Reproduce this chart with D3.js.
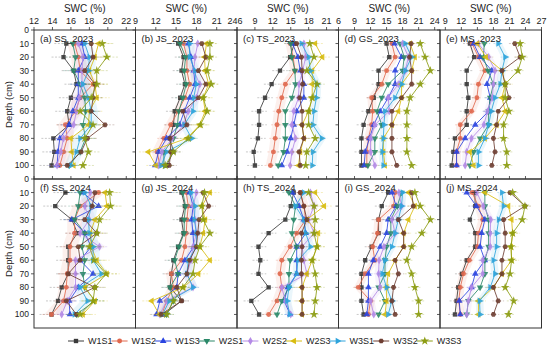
<html>
<head>
    <style>
        body { margin: 0; background: #fff; }
        text { font-family: Arial, "Liberation Sans", sans-serif; fill: #222; }
    </style>
</head>
<body>
    <svg id="chart" width="550" height="349"></svg>

<script src="https://cdn.jsdelivr.net/npm/d3@7"></script>
<script>
    // depth (cm) of each measurement
    let depths = [10, 20, 30, 40, 50, 60, 70, 80, 90, 100]

    let seriesNames = ["W1S1", "W1S2", "W1S3", "W2S1", "W2S2", "W2S3", "W3S1", "W3S2", "W3S3"]
    let seriesColors = ["#3a3a3a", "#e0684e", "#2a44e0", "#2a8868", "#b48ae6", "#d8bc10", "#2ea4dc", "#6e3e32", "#8c9c12"]
    // rough half-width of the error bars, per treatment
    let errorSpread = [1.3, 1.0, 0.9, 1.1, 0.9, 1.4, 0.9, 1.1, 1.3]

    // SWC (%) per treatment, depths 10..100
    let ss2023 = [
        [15.5, 15.2, 16.3, 16.6, 16.0, 15.6, 15.8, 14.1, 14.2, 13.9],
        [16.4, 16.8, 17.0, 18.4, 17.0, 16.5, 15.4, 15.6, 15.2, 14.8],
        [17.2, 17.5, 16.8, 16.8, 16.8, 16.2, 15.8, 14.8, 14.6, 14.5],
        [16.2, 16.5, 16.3, 17.0, 17.5, 17.6, 17.3, 17.6, 17.0, 15.8],
        [16.8, 17.3, 17.2, 17.2, 16.9, 16.6, 16.3, 15.2, 14.9, 14.5],
        [19.0, 18.6, 18.0, 18.6, 18.8, 18.0, 17.9, 16.0, 16.1, 16.3],
        [17.5, 18.0, 17.9, 17.3, 17.9, 18.2, 18.2, 17.0, 16.6, 16.0],
        [18.2, 18.4, 17.5, 18.6, 18.4, 18.2, 19.7, 17.8, 17.1, 15.6],
        [19.4, 19.9, 18.8, 18.8, 18.2, 17.0, 18.4, 17.5, 17.9, 17.3]
    ]
    let js2023 = [
        [15.3, 16.1, 15.8, 16.3, 15.6, 14.8, 14.6, 14.1, 14.6, 13.6],
        [16.1, 16.6, 16.6, 17.0, 16.3, 15.3, 14.2, 13.2, 12.2, 12.6],
        [16.8, 17.2, 17.6, 17.8, 17.0, 16.2, 15.5, 13.6, 12.4, 11.9],
        [15.6, 16.4, 16.2, 16.5, 16.0, 15.4, 15.2, 14.6, 13.2, 13.2],
        [18.2, 17.8, 17.6, 18.5, 18.0, 16.8, 16.1, 14.4, 12.9, 12.4],
        [19.5, 19.2, 19.3, 19.8, 19.0, 19.3, 18.5, 16.6, 10.9, 12.0],
        [17.0, 17.0, 17.8, 18.0, 17.6, 17.5, 16.2, 17.3, 13.6, 12.8],
        [18.8, 19.4, 18.3, 19.4, 18.3, 16.0, 16.6, 14.1, 14.2, 14.0],
        [20.0, 20.0, 19.6, 20.2, 19.0, 19.6, 18.6, 16.8, 14.6, 13.4]
    ]
    let ts2023 = [
        [15.6, 14.9, 13.2, 11.8, 10.7, 9.7, 9.7, 9.5, 8.8, 9.0],
        [14.9, 15.4, 15.7, 14.1, 13.5, 13.0, 12.7, 12.4, 12.1, 11.6],
        [15.3, 16.2, 16.6, 17.2, 17.2, 16.0, 15.5, 15.0, 14.4, 13.5],
        [15.0, 15.2, 15.7, 15.8, 15.2, 14.1, 14.1, 14.1, 13.8, 12.9],
        [17.2, 17.5, 17.0, 16.4, 16.3, 15.5, 15.2, 15.8, 15.2, 14.9],
        [19.1, 20.3, 18.6, 18.6, 18.6, 18.0, 16.9, 17.2, 16.6, 16.3],
        [16.8, 18.0, 18.3, 19.4, 19.3, 18.9, 18.7, 20.2, 18.7, 18.6],
        [16.0, 16.8, 16.9, 17.0, 16.5, 16.9, 16.9, 17.2, 16.4, 16.6],
        [18.2, 18.9, 17.7, 19.4, 18.6, 18.0, 18.0, 19.1, 17.7, 17.5]
    ]
    let gs2023 = [
        [15.0, 15.5, 13.5, 13.5, 12.6, 11.6, 10.7, 10.3, 10.3, 10.3],
        [16.0, 16.6, 15.0, 14.1, 12.2, 12.4, 12.2, 11.6, 11.3, 11.3],
        [16.5, 17.8, 16.6, 16.6, 15.3, 13.8, 12.6, 11.8, 11.0, 10.8],
        [17.5, 18.3, 18.0, 15.3, 14.1, 13.2, 14.1, 12.8, 12.8, 11.5],
        [18.0, 19.1, 18.5, 17.2, 15.3, 15.5, 12.8, 12.0, 12.0, 12.8],
        [19.4, 20.3, 19.7, 17.8, 17.8, 17.2, 16.0, 14.4, 14.4, 14.7],
        [18.5, 19.7, 18.5, 17.8, 16.6, 14.7, 14.5, 14.4, 14.2, 14.4],
        [19.6, 19.3, 19.7, 19.7, 17.8, 16.0, 16.0, 16.0, 16.0, 16.9],
        [21.3, 22.2, 23.2, 21.3, 19.4, 18.8, 18.8, 18.8, 18.8, 19.7]
    ]
    let ms2023 = [
        [13.6, 14.4, 13.0, 13.0, 13.3, 13.0, 13.0, 10.8, 10.5, 10.2],
        [14.0, 15.2, 16.4, 15.2, 14.9, 13.9, 11.8, 11.8, 11.1, 11.1],
        [14.3, 15.5, 17.7, 16.8, 17.4, 17.1, 14.6, 12.7, 11.1, 11.1],
        [16.3, 16.1, 17.0, 18.0, 17.4, 17.1, 17.1, 15.5, 14.3, 13.6],
        [15.2, 17.1, 18.3, 18.0, 17.8, 16.9, 16.2, 13.9, 13.0, 12.7],
        [15.0, 16.6, 19.6, 20.2, 19.6, 20.2, 18.6, 16.4, 13.6, 14.3],
        [18.9, 20.2, 19.6, 19.3, 18.3, 17.6, 17.1, 16.4, 15.2, 15.2],
        [22.0, 23.0, 19.6, 20.2, 20.9, 18.9, 18.6, 18.0, 18.3, 17.7],
        [23.0, 23.4, 22.6, 20.2, 20.2, 20.9, 19.9, 19.9, 20.5, 20.5]
    ]
    let ss2024 = [
        [15.4, 14.3, 16.1, 16.7, 15.7, 15.7, 15.7, 15.0, 14.6, 13.9],
        [19.0, 17.0, 16.4, 16.4, 15.9, 15.9, 15.6, 15.5, 15.2, 13.9],
        [17.3, 19.0, 16.1, 17.5, 18.2, 17.0, 18.4, 16.8, 15.8, 15.9],
        [17.0, 16.8, 16.4, 17.5, 17.2, 17.5, 17.3, 17.5, 18.6, 16.6],
        [18.1, 17.5, 18.0, 17.0, 19.1, 16.5, 16.5, 16.5, 15.6, 15.0],
        [19.7, 19.9, 18.6, 18.1, 18.2, 18.8, 19.9, 17.5, 18.6, 17.3],
        [17.5, 18.2, 17.9, 18.0, 18.4, 18.4, 19.3, 17.0, 17.8, 16.4],
        [18.6, 18.3, 17.5, 18.8, 16.8, 17.0, 15.7, 18.6, 15.5, 16.6],
        [20.2, 20.3, 19.1, 18.8, 18.0, 18.5, 19.8, 18.6, 18.4, 17.0]
    ]
    let js2024 = [
        [15.8, 16.3, 15.8, 16.1, 15.3, 14.6, 14.3, 14.1, 15.8, 13.2],
        [16.5, 16.8, 16.6, 16.5, 16.3, 15.8, 14.3, 14.6, 13.6, 12.9],
        [17.0, 17.5, 17.3, 17.5, 17.6, 16.3, 15.3, 15.1, 12.6, 12.1],
        [16.0, 16.4, 16.2, 16.2, 15.4, 14.8, 15.3, 14.1, 14.6, 13.6],
        [18.0, 17.5, 17.8, 18.0, 17.5, 17.2, 16.6, 17.5, 13.6, 12.6],
        [20.0, 18.8, 19.3, 19.0, 18.5, 20.0, 18.3, 16.1, 11.4, 12.5],
        [17.2, 17.8, 17.7, 18.0, 18.0, 16.8, 16.6, 17.5, 14.0, 13.0],
        [19.0, 19.8, 18.4, 18.2, 18.0, 17.0, 16.6, 15.1, 15.8, 12.8],
        [19.2, 18.8, 19.0, 20.0, 18.5, 17.8, 17.5, 16.0, 14.6, 13.6]
    ]
    let ts2024 = [
        [15.5, 15.0, 14.1, 11.3, 9.6, 9.9, 9.6, 11.3, 8.4, 9.7],
        [16.6, 17.2, 17.5, 16.0, 14.9, 13.5, 13.2, 13.5, 12.7, 11.3],
        [15.3, 16.4, 17.2, 17.5, 16.0, 16.0, 16.0, 14.5, 13.9, 14.9],
        [14.7, 15.8, 15.5, 15.2, 16.0, 14.9, 14.7, 14.7, 13.5, 12.7],
        [18.3, 18.9, 18.0, 18.9, 16.9, 17.2, 17.7, 13.5, 14.1, 15.0],
        [19.1, 20.6, 17.7, 19.6, 19.4, 18.6, 17.7, 16.9, 16.9, 16.9],
        [17.2, 15.8, 17.2, 17.5, 18.3, 16.2, 16.0, 14.7, 14.4, 14.8],
        [16.6, 17.2, 17.7, 16.8, 16.9, 16.8, 16.8, 16.9, 16.9, 16.9],
        [18.0, 18.9, 19.1, 18.9, 19.4, 18.6, 19.1, 19.4, 19.1, 18.9]
    ]
    let gs2024 = [
        [15.3, 14.1, 13.5, 13.5, 12.2, 11.0, 10.3, 10.3, 10.3, 10.7],
        [16.6, 16.3, 13.5, 13.3, 12.4, 12.8, 11.0, 9.7, 12.0, 11.6],
        [16.0, 16.8, 15.3, 15.0, 13.8, 12.5, 11.6, 11.6, 11.6, 11.3],
        [17.8, 17.0, 15.8, 15.8, 15.0, 14.7, 14.7, 13.5, 14.7, 13.5],
        [17.3, 17.8, 16.0, 16.6, 14.5, 13.6, 13.5, 13.8, 12.0, 12.6],
        [19.1, 20.3, 19.1, 18.2, 18.2, 16.6, 15.3, 15.0, 15.0, 14.7],
        [18.0, 17.8, 17.2, 16.6, 16.0, 14.7, 14.2, 15.0, 16.0, 15.3],
        [19.7, 20.0, 17.2, 18.2, 18.2, 16.6, 17.2, 16.3, 16.0, 16.6],
        [20.3, 21.3, 23.2, 21.6, 19.7, 18.8, 19.7, 20.3, 21.0, 21.0]
    ]
    let ms2024 = [
        [14.5, 14.6, 13.6, 14.6, 14.6, 13.0, 12.1, 11.4, 11.1, 10.8],
        [14.0, 15.2, 16.0, 15.2, 15.0, 13.5, 12.4, 11.8, 11.5, 11.8],
        [13.0, 14.8, 16.4, 15.8, 15.5, 16.4, 14.6, 13.9, 11.6, 11.8],
        [16.4, 16.4, 17.1, 17.1, 17.1, 16.4, 16.4, 15.5, 13.3, 13.0],
        [14.9, 16.1, 17.5, 17.4, 17.4, 16.0, 16.0, 13.9, 13.3, 13.0],
        [16.4, 20.8, 21.4, 21.6, 21.3, 21.4, 19.6, 18.0, 15.2, 15.2],
        [19.6, 19.9, 19.0, 18.6, 18.6, 18.0, 18.3, 17.4, 15.4, 15.5],
        [21.1, 23.9, 19.9, 20.2, 20.2, 19.6, 19.6, 18.0, 18.9, 18.0],
        [21.6, 23.9, 23.4, 21.6, 21.3, 21.4, 21.1, 20.2, 21.8, 20.8]
    ]

    let panelLabels = ["(a) SS_2023", "(b) JS_2023", "(c) TS_2023", "(d) GS_2023", "(e) MS_2023",
                       "(f) SS_2024", "(g) JS_2024", "(h) TS_2024", "(i) GS_2024", "(j) MS_2024"]
    let panelData = [ss2023, js2023, ts2023, gs2023, ms2023, ss2024, js2024, ts2024, gs2024, ms2024]
    let xDomains = [[12, 23], [9, 24], [6, 23], [6, 25], [8, 27]]
    let xTicks = [[12, 14, 16, 18, 20, 22], [9, 12, 15, 18, 21, 24], [6, 9, 12, 15, 18, 21],
                  [6, 9, 12, 15, 18, 21, 24], [9, 12, 15, 18, 21, 24, 27]]
    let yTicks = [0, 10, 20, 30, 40, 50, 60, 70, 80, 90, 100]

    let svg = d3.select("#chart")
    let left = 34, panelW = 101.5
    let rowTop = [30, 179], panelH = 149

    // extra marker shapes (Origin style)
    function regular(n, rot) {
        return {
            draw(ctx, size) {
                let r = Math.sqrt(size / (n * Math.sin(2 * Math.PI / n) / 2))
                for (let i = 0; i < n; i++) {
                    let a = rot + i * 2 * Math.PI / n
                    if (i) ctx.lineTo(r * Math.cos(a), r * Math.sin(a))
                    else ctx.moveTo(r * Math.cos(a), r * Math.sin(a))
                }
                ctx.closePath()
            }
        }
    }
    let symbols = [d3.symbolSquare, d3.symbolCircle, regular(3, -Math.PI / 2), regular(3, Math.PI / 2),
                   d3.symbolDiamond, regular(3, Math.PI), regular(3, 0), regular(6, 0), d3.symbolStar]

    let defs = svg.append("defs")

    panelData.forEach((data, p) => {
        let col = p % 5, row = Math.floor(p / 5)
        let x0 = left + col * panelW, y0 = rowTop[row]

        let x = d3.scaleLinear().domain(xDomains[col]).range([x0, x0 + panelW])
        let y = d3.scaleLinear().domain([0, 110]).range([y0, y0 + panelH])

        defs.append("clipPath").attr("id", "clip" + p)
            .append("rect").attr("x", x0).attr("y", y0).attr("width", panelW).attr("height", panelH)

        let g = svg.append("g").attr("clip-path", "url(#clip" + p + ")")

        // faint spread bands
        let band = d3.area()
            .y(d => y(d.depth))
            .x0(d => x(d.v - d.e))
            .x1(d => x(d.v + d.e))
        ;[1, 6, 4].forEach(s => {
            let pts = data[s].map((v, i) => ({ depth: depths[i], v: v, e: errorSpread[s] * 0.8 }))
            g.append("path")
                .attr("d", band(pts))
                .attr("fill", seriesColors[s])
                .attr("opacity", 0.1)
        })

        data.forEach((vals, s) => {
            let pts = vals.map((v, i) => ({ depth: depths[i], v: v }))
            let c = seriesColors[s]

            // error bars
            g.selectAll(null).data(pts).enter().append("line")
                .attr("x1", d => x(d.v - errorSpread[s]))
                .attr("x2", d => x(d.v + errorSpread[s]))
                .attr("y1", d => y(d.depth))
                .attr("y2", d => y(d.depth))
                .attr("stroke", c)
                .attr("stroke-opacity", 0.35)
                .attr("stroke-width", 0.8)
                .attr("stroke-dasharray", "2,1.5")

            g.append("path")
                .attr("d", d3.line().x(d => x(d.v)).y(d => y(d.depth))(pts))
                .attr("fill", "none")
                .attr("stroke", c)
                .attr("stroke-width", 1)
                .attr("stroke-opacity", 0.85)

            g.selectAll(null).data(pts).enter().append("path")
                .attr("transform", d => `translate(${x(d.v)},${y(d.depth)})`)
                .attr("d", d3.symbol().type(symbols[s]).size(s == 8 ? 24 : 19))
                .attr("fill", c)
                .attr("fill-opacity", 0.9)
        })

        // frame
        svg.append("rect")
            .attr("x", x0).attr("y", y0).attr("width", panelW).attr("height", panelH)
            .attr("fill", "none").attr("stroke", "#333").attr("stroke-width", 1)

        // top axis ticks
        svg.append("g").selectAll("line").data(xTicks[col]).enter().append("line")
            .attr("x1", d => x(d)).attr("x2", d => x(d))
            .attr("y1", y0).attr("y2", y0 - 3)
            .attr("stroke", "#333").attr("stroke-width", 0.8)

        if (row == 0) {
            let prevEnds = col > 0 && xTicks[col - 1][xTicks[col - 1].length - 1] == xDomains[col - 1][1]
            svg.append("g").selectAll("text").data(xTicks[col]).enter().append("text")
                .attr("x", d => {
                    if (d == xDomains[col][1] && col < 4) return x(d) + 0.5
                    if (d == xDomains[col][0] && prevEnds) return x(d) + 0.5
                    return x(d)
                })
                .attr("y", 24)
                .attr("text-anchor", d => {
                    if (d == xDomains[col][1] && col < 4) return "end"
                    if (d == xDomains[col][0] && prevEnds) return "start"
                    return "middle"
                })
                .attr("font-size", 9)
                .text(d => d)
            svg.append("text")
                .attr("x", x0 + panelW / 2).attr("y", 12)
                .attr("text-anchor", "middle")
                .attr("font-size", 10)
                .text("SWC (%)")
        }

        // depth ticks on the left edge
        svg.append("g").selectAll("line").data(yTicks).enter().append("line")
            .attr("x1", x0).attr("x2", x0 - 3)
            .attr("y1", d => y(d)).attr("y2", d => y(d))
            .attr("stroke", "#333").attr("stroke-width", 0.8)

        if (col == 0) {
            svg.append("g").selectAll("text").data(yTicks).enter().append("text")
                .attr("x", x0 - 5).attr("y", d => y(d) + 3)
                .attr("text-anchor", "end")
                .attr("font-size", 8.5)
                .text(d => d)
            svg.append("text")
                .attr("transform", `translate(12,${y0 + panelH / 2}) rotate(-90)`)
                .attr("text-anchor", "middle")
                .attr("font-size", 9.5)
                .text("Depth (cm)")
        }

        svg.append("text")
            .attr("x", x0 + 6).attr("y", y0 + 12)
            .attr("font-size", 9.5)
            .text(panelLabels[p])
    })

    // legend
    let legend = svg.append("g")
    seriesNames.forEach((name, s) => {
        let tx = 88 + s * 43.6, ly = 341
        legend.append("line")
            .attr("x1", tx - 20).attr("x2", tx - 4)
            .attr("y1", ly).attr("y2", ly)
            .attr("stroke", seriesColors[s]).attr("stroke-width", 1)
        legend.append("path")
            .attr("transform", `translate(${tx - 12},${ly})`)
            .attr("d", d3.symbol().type(symbols[s]).size(s == 8 ? 24 : 19))
            .attr("fill", seriesColors[s])
        legend.append("text")
            .attr("x", tx).attr("y", ly + 3.2)
            .attr("font-size", 9)
            .text(name)
    })
</script>
</body>
</html>
